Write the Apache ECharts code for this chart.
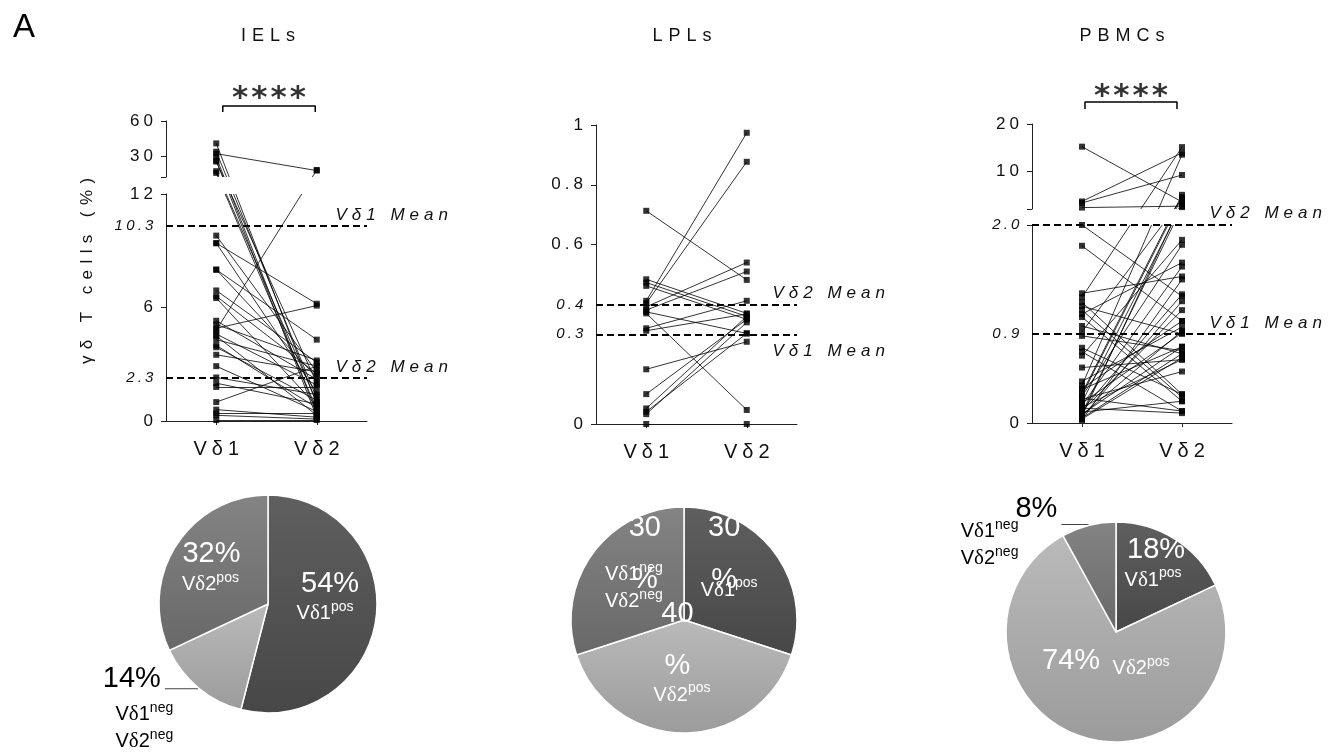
<!DOCTYPE html>
<html><head><meta charset="utf-8">
<script src="https://cdn.jsdelivr.net/npm/echarts@6/dist/echarts.min.js"></script>
<style>html,body{margin:0;padding:0;background:#fff}#c{width:1344px;height:755px}</style>
</head><body><div id="c"></div>
<script>
// ---------------- data ----------------
const categories = ['Vδ1', 'Vδ2'];
const panelTitles = ['IELs', 'LPLs', 'PBMCs'];
const yAxisName = 'γδ T cells (%)';
const meanNames = ['Vδ1 Mean', 'Vδ2 Mean'];

const ielVd1 = [40.8, 33.7, 32.0, 29.0, 25.2, 17.0, 15.5, 9.8, 9.4, 8.0, 6.9, 6.6, 6.5, 5.3, 4.9, 4.8, 4.6, 4.5, 4.3, 4.0, 3.5, 2.9, 2.3, 1.8, 1.0, 0.6, 0.3, 0.05, 9.4, 8.0, 3.9, 2.0, 0.4, 5.1, 26.0];
const ielVd2 = [0.9, 1.2, 17.5, 0.4, 2.0, 1.0, 0.6, 2.6, 6.2, 4.3, 3.1, 2.5, 0.8, 2.2, 6.1, 18.0, 1.9, 0.3, 2.9, 0.7, 2.6, 0.5, 1.4, 1.8, 2.9, 0.2, 0.1, 0.05, 1.5, 2.3, 1.1, 0.9, 0.4, 3.2, 0.2];

const lplVd1 = [0.713, 0.484, 0.473, 0.462, 0.412, 0.404, 0.392, 0.381, 0.370, 0.375, 0.320, 0.312, 0.183, 0.100, 0.052, 0.041, 0.033, 0];
const lplVd2 = [0.482, 0.370, 0.360, 0.350, 0.974, 0.877, 0.540, 0.510, 0.047, 0.303, 0.412, 0.368, 0.275, 0.350, 0.360, 0.303, 0.340, 0];

const pbmcVd1 = [15.2, 3.6, 3.3, 2.3, 2.0, 1.79, 1.31, 1.27, 1.22, 1.18, 1.14, 1.10, 1.07, 0.98, 0.92, 0.88, 0.76, 0.72, 0.68, 0.56, 0.42, 0.38, 0.34, 0.30, 0.27, 0.24, 0.21, 0.18, 0.15, 0.12, 0.10, 0.08, 0.06, 0.04, 0.03, 0.05, 0.20, 0.13, 0.09, 0.35, 0.25, 0.07, 0.16, 0.11, 0.28];
const pbmcVd2 = [3.5, 13.9, 9.2, 2.6, 1.28, 1.03, 1.48, 15.1, 0.29, 0.90, 0.26, 1.62, 0.22, 0.70, 4.2, 0.73, 0.29, 0.12, 1.85, 0.64, 0.97, 13.5, 0.77, 5.0, 1.80, 0.52, 3.0, 1.58, 0.10, 1.14, 2.4, 0.93, 1.23, 0.66, 1.45, 0.70, 0.91, 1.30, 0.77, 1.03, 0.12, 3.5, 0.64, 0.22, 4.5];

const meanVd1 = [10.3, 0.3, 0.9];
const meanVd2 = [2.3, 0.4, 2.0];
const meanTickText = [['10.3', '2.3'], ['0.3', '0.4'], ['0.9', '2.0']];

const ielLowerTicks = [0, 6, 12];
const ielUpperTicks = [30, 60];
const lplTicks = [0, 0.6, 0.8, 1];
const pbmcLowerTicks = [0];
const pbmcUpperTicks = [10, 20];
const significance = ['****', null, '****'];

const ielPie = [54, 14, 32];
const lplPie = [30, 40, 30];
const pbmcPie = [18, 74, 8];
const ielPieNames = ['Vδ1pos', 'Vδ1neg Vδ2neg', 'Vδ2pos'];
const lplPieNames = ['Vδ1pos', 'Vδ2pos', 'Vδ1neg Vδ2neg'];
const pbmcPieNames = ['Vδ1pos', 'Vδ2pos', 'Vδ1neg Vδ2neg'];

// ---------------- layout ----------------
const FONT = "'Liberation Sans', Arial, sans-serif";
const SERIF = "'Liberation Serif', 'Times New Roman', serif";
const INK = '#111';

const layout = [
  { left: 166, width: 201, lowTop: 194, bottom: 421, lowMax: 12,
    up: { top: 121, bottom: 177, min: 12, max: 60 },
    titleX: 263, bracket: { top: 106, h: 6, x: [1.13, 2.97] }, starsGap: -9,
    meanLabel: [[-39, -11], [-39, -10]] },
  { left: 596, width: 201, lowTop: 125, bottom: 424, lowMax: 1, up: null,
    titleX: 677, bracket: null,
    meanLabel: [[-32, 17], [-32, -11]] },
  { left: 1032, width: 200, lowTop: 225, bottom: 423, lowMax: 2,
    up: { top: 124, bottom: 209, min: 2, max: 20 },
    titleX: 1117, bracket: { top: 102, h: 7, x: [1.06, 2.9] }, starsGap: -11,
    meanLabel: [[-30, -11], [-30, -12]] }
];

const pieLayout = [
  { center: [268, 604], r: 109,
    main: [[5, -27], null, [-8, -19]], names: [[0, 2], [-87, 80], [-9, 11]],
    outside: { 1: { length2: 33, padBottom: 20 } }, darkNames: [1], lineH: 34 },
  { center: [684, 620], r: 113,
    main: [[-8, -31], [-6.5, -40], [9, -31]], names: [[-3, 5], [-2, 15.5], [-2, 3]],
    outside: {}, darkNames: [], lineH: 52, wrap: true },
  { center: [1116, 632], r: 110,
    main: [[9, -33], [-27, -26], null], names: [[6, -3], [43, -19], [-112, -31]],
    outside: { 2: { length2: 27, padBottom: 30 } }, darkNames: [2], lineH: 34 }
];

// ---------------- helpers ----------------
function sp(str, style) { return Array.from(str).map(ch => '{' + style + '|' + ch + '}').join(''); }
function makeT(L) {
  if (!L.up) return v => v;
  const lowPx = (L.bottom - L.lowTop) / L.lowMax;
  const upPx = (L.up.bottom - L.up.top) / (L.up.max - L.up.min);
  const gap = L.lowTop - L.up.bottom;
  return v => v <= L.lowMax ? v : L.lowMax + (gap + (v - L.up.min) * upPx) / lowPx;
}
const richAxis = {
  a: { fontFamily: FONT, fontSize: 17, fontWeight: 'normal', color: INK, padding: [0, 2, 0, 2] },
  i: { fontFamily: FONT, fontSize: 15, fontWeight: 'normal', fontStyle: 'italic', color: INK, padding: [0, 1.6, 0, 1.6] }
};
function yFmt(means, strs) {
  return v => {
    const k = means.findIndex(m => Math.abs(m - v) < 1e-9);
    return k >= 0 ? sp(strs[k], 'i') : sp(String(v), 'a');
  };
}
const axisLineStyle = { color: '#222', width: 1 };

const option = { animation: false, backgroundColor: '#fff', grid: [], xAxis: [], yAxis: [], series: [], title: [] };
function addGrid(g, x, y) {
  option.grid.push(g);
  const idx = option.grid.length - 1;
  x.gridIndex = idx; y.gridIndex = idx;
  option.xAxis.push(x); option.yAxis.push(y);
  return idx;
}
const hiddenX = () => ({ type: 'value', min: 0, max: 4, show: false });

const pairs = [[ielVd1, ielVd2], [lplVd1, lplVd2], [pbmcVd1, pbmcVd2]];
const lowerTicks = [ielLowerTicks, lplTicks, pbmcLowerTicks];
const upperTicks = [ielUpperTicks, null, pbmcUpperTicks];

layout.forEach((L, p) => {
  const T = makeT(L);
  const means = [meanVd1[p], meanVd2[p]];
  // upper axis segment
  if (L.up) {
    addGrid({ left: L.left, top: L.up.top, width: L.width, height: L.up.bottom - L.up.top }, hiddenX(), {
      type: 'value', min: L.up.min, max: L.up.max,
      axisLine: { show: true, lineStyle: axisLineStyle },
      axisTick: { show: true, customValues: [L.up.min].concat(upperTicks[p]), length: 5, lineStyle: axisLineStyle },
      axisLabel: { customValues: upperTicks[p], formatter: v => sp(String(v), 'a'), rich: richAxis, margin: 11 },
      splitLine: { show: false }
    });
  }
  // lower axis segment with x axis
  const lowLabelVals = lowerTicks[p].concat(means);
  addGrid({ left: L.left, top: L.lowTop, width: L.width, height: L.bottom - L.lowTop }, {
    type: 'value', min: 0, max: 4,
    axisLine: { show: true, onZero: false, lineStyle: axisLineStyle },
    axisTick: { show: true, customValues: [1, 3], length: 4, lineStyle: axisLineStyle },
    axisLabel: { customValues: [1, 3], formatter: v => sp(categories[(v - 1) / 2], 'x'), margin: 18,
      rich: { x: { fontFamily: FONT, fontSize: 20, color: INK, padding: [0, 2.5, 0, 2.5] } } },
    splitLine: { show: false }
  }, {
    type: 'value', min: 0, max: L.lowMax,
    axisLine: { show: true, lineStyle: axisLineStyle },
    axisTick: { show: true, customValues: L.up ? lowerTicks[p].concat([L.lowMax]) : lowerTicks[p], length: 5, lineStyle: axisLineStyle },
    axisLabel: { customValues: lowLabelVals, formatter: yFmt(means, meanTickText[p]), rich: richAxis, margin: 11 },
    splitLine: { show: false }
  });
  // data grid
  const top = L.up ? L.up.top : L.lowTop;
  const yMax = L.up ? T(L.up.max) : L.lowMax;
  const yData = { type: 'value', min: 0, max: yMax, show: false };
  if (p === 0) {
    Object.assign(yData, {
      show: true, axisLine: { show: false }, axisTick: { show: false }, axisLabel: { show: false }, splitLine: { show: false },
      name: sp(yAxisName, 'n'), nameLocation: 'middle', nameGap: 70, nameRotate: 90,
      nameTextStyle: { rich: { n: { fontFamily: FONT, fontSize: 17, color: INK, padding: [0, 3.2, 0, 3.2] } } }
    });
  }
  const d = addGrid({ left: L.left, top: top, width: L.width, height: L.bottom - top }, hiddenX(), yData);
  const [v1, v2] = pairs[p];
  option.series.push({
    type: 'lines', coordinateSystem: 'cartesian2d', xAxisIndex: d, yAxisIndex: d, silent: true, z: 3,
    lineStyle: { color: '#000', width: 0.8, opacity: 1, curveness: 0 },
    data: v1.map((a, i) => ({ coords: [[1, T(a)], [3, T(v2[i])]] }))
  });
  if (L.up) {
    const lowPx = (L.bottom - L.lowTop) / L.lowMax;
    const gapTop = L.lowMax + (L.lowTop - L.up.bottom) / lowPx;
    option.series.push({
      type: 'custom', xAxisIndex: d, yAxisIndex: d, z: 4, silent: true, clip: false, data: [[0]],
      renderItem: (params, api) => {
        const a = api.coord([0, gapTop]); const b = api.coord([4, L.lowMax]);
        return { type: 'rect', shape: { x: a[0] + 1, y: a[1], width: b[0] - a[0], height: b[1] - a[1] }, style: { fill: '#fff' } };
      }
    });
  }
  const meanRich = { m: { fontFamily: FONT, fontSize: 17, fontStyle: 'italic', color: INK, padding: [0, 2.5, 0, 2.5] } };
  option.series.push({
    type: 'scatter', xAxisIndex: d, yAxisIndex: d, silent: true, z: 7,
    symbol: 'rect', symbolSize: 6, itemStyle: { color: '#000' },
    data: v1.map(a => [1, T(a)]).concat(v2.map(b => [3, T(b)])),
    markLine: {
      silent: true, symbol: ['none', 'none'], animation: false, z: 6,
      lineStyle: { type: [7, 4], width: 2, color: '#000' },
      data: means.map((m, k) => ({
        yAxis: T(m),
        label: { show: true, position: 'end', offset: L.meanLabel[k], formatter: sp(meanNames[k], 'm'), rich: meanRich }
      }))
    }
  });
  // bracket + stars
  if (L.bracket) {
    const bx = L.bracket.x;
    const b = addGrid({ left: L.left, top: L.bracket.top, width: L.width, height: L.bracket.h }, hiddenX(),
      { type: 'value', min: 0, max: 1, show: false });
    option.series.push({
      type: 'line', xAxisIndex: b, yAxisIndex: b, silent: true, symbol: 'none', clip: false,
      lineStyle: { color: '#000', width: 1.5 },
      data: [[bx[0], 0], [bx[0], 1], [bx[1], 1], [bx[1], 0]]
    });
    option.series.push({
      type: 'scatter', xAxisIndex: b, yAxisIndex: b, silent: true, symbolSize: 1, itemStyle: { color: 'rgba(0,0,0,0)' },
      data: [[(bx[0] + bx[1]) / 2, 1]],
      label: { show: true, position: 'top', distance: L.starsGap, formatter: sp(significance[p], 'k'),
        rich: { k: { fontFamily: "'DejaVu Sans', sans-serif", fontSize: 31, fontWeight: 'bold', color: '#000', padding: [0, 1.5, 0, 1.5] } } }
    });
  }
  // panel title
  option.title.push({ text: sp(panelTitles[p], 't'), left: L.titleX, top: 22, textAlign: 'center',
    textStyle: { fontWeight: 'normal', rich: { t: { fontFamily: FONT, fontSize: 18, fontWeight: 'normal', color: INK, padding: [0, 3, 0, 3] } } } });
});
option.title.push({ text: 'A', left: 8, top: 6, textStyle: { fontFamily: FONT, fontSize: 33, fontWeight: 'normal', color: '#000' } });

// ---------------- pies ----------------
const grad = (a, b) => ({ type: 'linear', x: 0, y: 0, x2: 0, y2: 1, colorStops: [{ offset: 0, color: a }, { offset: 1, color: b }] });
const palette = [grad('#5f5f5f', '#474747'), grad('#bababa', '#9b9b9b'), grad('#848484', '#686868')];
function nameRich(name) {
  return name.split(' ').map(part => {
    const m = part.match(/^V(δ)(\d)(pos|neg)$/);
    return '{t|V}{d|δ}{t|' + m[2] + '}{s|' + m[3] + '}';
  }).join('\n');
}
function nameStyles(color) {
  return {
    t: { fontFamily: FONT, fontSize: 20, color: color, lineHeight: 27 },
    d: { fontFamily: SERIF, fontSize: 21, color: color, lineHeight: 27 },
    s: { fontFamily: FONT, fontSize: 14, color: color, lineHeight: 18, verticalAlign: 'top' }
  };
}
const pieVals = [ielPie, lplPie, pbmcPie];
const pieNms = [ielPieNames, lplPieNames, pbmcPieNames];
pieLayout.forEach((P, k) => {
  const vals = pieVals[k], names = pieNms[k];
  option.series.push({
    type: 'pie', center: P.center, radius: P.r, startAngle: 90, clockwise: true, avoidLabelOverlap: false, silent: true, z: 2,
    itemStyle: { borderColor: '#fff', borderWidth: 1.5 },
    labelLine: { show: false },
    labelLayout: params => { const o = P.main[params.dataIndex]; return o ? { dx: o[0], dy: o[1] } : {}; },
    data: vals.map((v, i) => {
      const out = P.outside[i];
      const col = out ? '#000' : '#fff';
      const txt = P.wrap ? '{p|' + v + '}\n{p|%}' : '{p|' + v + '%}';
      return {
        value: v, name: names[i], itemStyle: { color: palette[i] },
        label: {
          show: true, position: out ? 'outside' : 'inside', overflow: 'none', formatter: txt,
          padding: out ? [0, 0, out.padBottom, 0] : 0, distanceToLabelLine: 4,
          rich: { p: { fontFamily: FONT, fontSize: 29, color: col, lineHeight: P.lineH } }
        },
        labelLine: out ? { show: true, length: 1, length2: out.length2, lineStyle: { color: '#444', width: 1 } } : { show: false }
      };
    })
  });
  option.series.push({
    type: 'pie', center: P.center, radius: P.r, startAngle: 90, clockwise: true, avoidLabelOverlap: false, silent: true, z: 3,
    itemStyle: { color: 'rgba(0,0,0,0)', borderWidth: 0 },
    labelLine: { show: false },
    labelLayout: params => { const o = P.names[params.dataIndex]; return { dx: o[0], dy: o[1] }; },
    data: vals.map((v, i) => ({
      value: v, name: names[i],
      label: { show: true, position: 'inside', overflow: 'none', formatter: nameRich(names[i]),
        rich: nameStyles(P.darkNames.includes(i) ? '#000' : '#fff') }
    }))
  });
});

const chart = echarts.init(document.getElementById('c'), null, { renderer: 'canvas' });
chart.setOption(option);
</script>
</body></html>
